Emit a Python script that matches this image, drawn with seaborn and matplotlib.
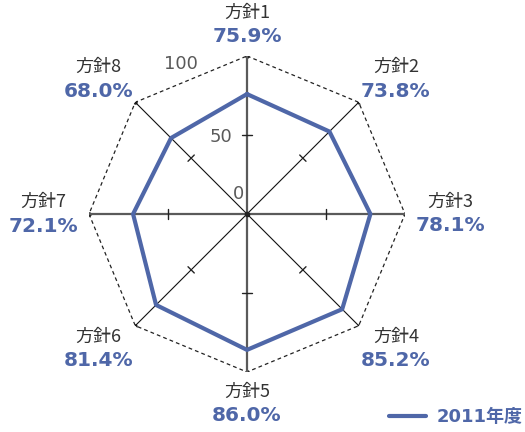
import numpy as np
import pandas as pd
import matplotlib
matplotlib.use("Agg")
import matplotlib.pyplot as plt
import seaborn as sns
from matplotlib.font_manager import FontProperties

categories = ["方針1", "方針2", "方針3", "方針4", "方針5", "方針6", "方針7", "方針8"]
values_2011 = [75.9, 73.8, 78.1, 85.2, 86.0, 81.4, 72.1, 68.0]
value_labels = ["75.9%", "73.8%", "78.1%", "85.2%", "86.0%", "81.4%", "72.1%", "68.0%"]
series_name = "2011年度"
r_ticks = [0, 50, 100]

BLUE = "#4F67A8"
sns.set_theme(style="white")
plt.rcParams["font.family"] = ["DejaVu Sans", "Noto Sans CJK JP"]

fig = plt.figure(figsize=(5.25, 4.32), dpi=100)
ax = fig.add_axes([89 / 525, 60 / 432, 316 / 525, 316 / 432], projection="polar")
ax.set_theta_zero_location("N")
ax.set_theta_direction(-1)
ax.set_ylim(0, 100)
ax.grid(False)
ax.set_xticks([])
ax.set_yticks([])
ax.spines["polar"].set_visible(False)
ax.set_facecolor("none")

n = len(categories)
theta = np.arange(n) * 2 * np.pi / n
rmax = r_ticks[-1]

# dashed octagon outline
th_closed = np.append(theta, 2 * np.pi)
ax.plot(th_closed, [rmax] * (n + 1), color="#222222", lw=0.9, ls=(0, (3, 2.5)), zorder=1)
ax.plot(theta, [rmax] * n, ls="none", marker="o", ms=2.2, color="#222222", zorder=1)

# spokes and tick marks at mid value
for i, th in enumerate(theta):
    main = i % 2 == 0
    ax.plot([th, th], [0, rmax], color="#5a5a5a" if main else "#111111",
            lw=1.6 if main else 0.8, zorder=2)
    d = 3.4 if main else 2.8
    mid = r_ticks[1]
    dth = np.arctan(d / mid)
    rr = np.hypot(mid, d)
    ax.plot([th - dth, th + dth], [rr, rr], color="#222222", lw=1.0, zorder=2)
ax.plot([0], [0], marker="o", ms=3, color="#222222", zorder=3)

# radial labels
tick_offsets = {0: (-3, 20), 50: (-15, -2), 100: (-49, -8)}
for t in r_ticks:
    ox, oy = tick_offsets[t]
    ax.annotate(str(t), xy=(0, t), xytext=(ox, oy), textcoords="offset pixels",
                ha="right", va="center", fontsize=13, color="#5a5a5a",
                family=["DejaVu Sans"], annotation_clip=False)

# data line
df = pd.DataFrame({"theta": np.append(theta, 2 * np.pi),
                   "value": values_2011 + [values_2011[0]]})
sns.lineplot(data=df, x="theta", y="value", ax=ax, sort=False, estimator=None,
             color=BLUE, lw=3, label=series_name, zorder=4)
ax.set_xlabel("")
ax.set_ylabel("")

# category labels
hx, hy = 36, 22
for th, cat, vl in zip(theta, categories, value_labels):
    s, c = np.sin(th), np.cos(th)
    sx = 0 if abs(s) < 0.1 else np.sign(s)
    sy = 0 if abs(c) < 0.1 else np.sign(c)
    ra = 106 - 5 * abs(np.sin(2 * th))
    ox, oy = sx * hx, sy * hy
    ax.annotate(cat, xy=(th, ra), xytext=(ox, oy + 12), textcoords="offset pixels",
                ha="center", va="center", fontsize=13, color="#333333",
                family=["Noto Sans CJK JP", "DejaVu Sans"], annotation_clip=False)
    ax.annotate(vl, xy=(th, ra), xytext=(ox, oy - 12), textcoords="offset pixels",
                ha="center", va="center", fontsize=14.5, color=BLUE, fontweight="bold",
                family=["DejaVu Sans"], annotation_clip=False)

leg = ax.legend(loc="lower right", bbox_to_anchor=(0.995, 0.014),
                bbox_transform=fig.transFigure, frameon=False, borderaxespad=0.0,
                borderpad=0.0, handlelength=2.1, handletextpad=0.55,
                prop=FontProperties(family=["DejaVu Sans", "Noto Sans CJK JP"],
                                    weight="bold", size=13))
for t in leg.get_texts():
    t.set_color(BLUE)

fig.savefig("out.png", dpi=100)
